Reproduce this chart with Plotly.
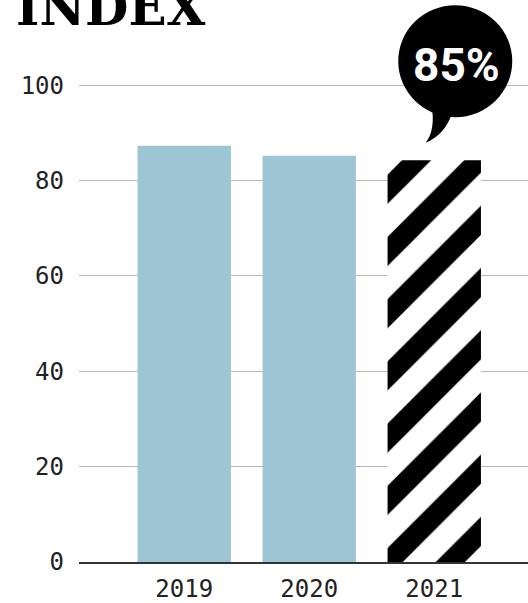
import plotly.graph_objects as go

# ---- data ----
years = ["2019", "2020", "2021"]
index_values = [87.3, 85.2, 84.3]
y_ticks = [0, 20, 40, 60, 80, 100]
title_text = "INDEX"
highlight_year = "2021"
bubble_label = "85%"

# ---- styling ----
BAR_BLUE = "#9DC5D3"
TICK_FONT = dict(family="DejaVu Sans Mono", size=24, color="#222222")

positions = list(range(len(years)))
hi = years.index(highlight_year)
hi_val = index_values[hi]
base_pos = [p for p in positions if p != hi]
base_val = [index_values[p] for p in base_pos]

fig = go.Figure()
fig.add_trace(go.Bar(
    x=base_pos, y=base_val, width=0.747,
    marker=dict(color=BAR_BLUE, line=dict(width=0)),
    hoverinfo="skip", showlegend=False,
))
fig.add_trace(go.Bar(
    x=[hi], y=[hi_val], width=0.747,
    marker=dict(
        color="white",
        line=dict(width=0),
        pattern=dict(shape="/", fgcolor="black", bgcolor="white",
                     fgopacity=1, size=44, solidity=0.47),
    ),
    hoverinfo="skip", showlegend=False,
))

# speech bubble anchored to the highlighted bar top (pixel offsets)
fig.add_shape(type="circle", xref="x", yref="y",
              xsizemode="pixel", ysizemode="pixel",
              xanchor=hi, yanchor=hi_val,
              x0=-36, x1=78, y0=43, y1=155,
              fillcolor="black", line=dict(width=0), layer="above")
fig.add_shape(type="path", xref="x", yref="y",
              xsizemode="pixel", ysizemode="pixel",
              xanchor=hi, yanchor=hi_val,
              path="M-2.6,54 Q1.4,30.5 -8.6,17.5 Q10.4,25.5 17.4,46 Z",
              fillcolor="black", line=dict(width=0), layer="above")

fig.add_annotation(x=hi, y=hi_val, xref="x", yref="y",
                   text=bubble_label, showarrow=False,
                   xshift=22, yshift=95,
                   font=dict(family="Roboto", size=46, color="white", weight=700))

fig.add_annotation(x=-0.145, y=0.931, xref="paper", yref="paper",
                   xanchor="left", yanchor="bottom",
                   text=title_text, showarrow=False,
                   font=dict(family="DejaVu Serif", size=50, color="black", weight=900))

fig.update_layout(
    width=528, height=603,
    margin=dict(l=79, r=0, t=0, b=41),
    paper_bgcolor="white", plot_bgcolor="white",
    barmode="overlay",
    xaxis=dict(
        range=[-0.842, 2.75],
        tickvals=positions, ticktext=years,
        tickfont=TICK_FONT,
        showgrid=False, zeroline=False,
        showline=True, linecolor="#333333", linewidth=1.5,
        ticks="", ticklabelstandoff=4,
        automargin=False, fixedrange=True,
    ),
    yaxis=dict(
        range=[0, 117.9],
        tickvals=y_ticks,
        tickfont=TICK_FONT,
        showgrid=True, gridcolor="#b5b5b5", gridwidth=1,
        zeroline=False, showline=False,
        ticks="", ticklabelstandoff=14,
        automargin=False, fixedrange=True,
    ),
)

fig.write_html("out.html", config={"displayModeBar": False},
               post_script="document.body.style.margin='0';")
